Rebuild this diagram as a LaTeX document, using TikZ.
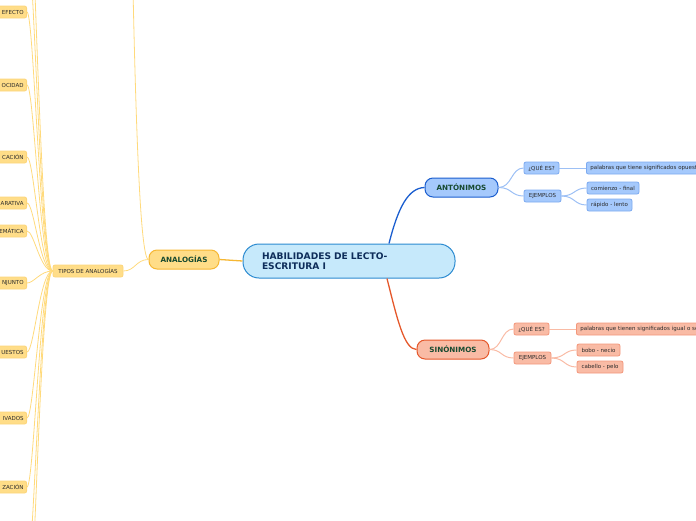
\documentclass[tikz,border=0pt]{standalone}
\usepackage{fontspec}
\setmainfont{DejaVu Sans}
\definecolor{cfill}{HTML}{C6E9FB}
\definecolor{cline}{HTML}{2B8AD0}
\definecolor{ctext}{HTML}{0E2D5A}
\definecolor{yfill}{HTML}{FFDD88}
\definecolor{yline}{HTML}{F6B733}
\definecolor{ylight}{HTML}{FCD57A}
\definecolor{ythin}{HTML}{FFDA7C}
\definecolor{bfill}{HTML}{A5C9FC}
\definecolor{bline}{HTML}{1B5ECF}
\definecolor{blight}{HTML}{7DAAF0}
\definecolor{bthin}{HTML}{9DC0F5}
\definecolor{rfill}{HTML}{F9BBA5}
\definecolor{rline}{HTML}{E5582B}
\definecolor{rlight}{HTML}{F3977B}
\definecolor{rthin}{HTML}{F9BBA5}
\definecolor{gtext}{HTML}{174A30}
\definecolor{stext}{HTML}{2A2A2A}
\tikzset{
  mainbox/.style={draw, line width=1pt, rounded corners=8pt, minimum height=19pt, inner sep=0pt, font=\fontsize{7.2}{8}\selectfont\bfseries, text=gtext},
  smallbox/.style={draw, line width=0.8pt, rounded corners=2pt, minimum height=12pt, inner sep=0pt, font=\fontsize{5.5}{6}\selectfont, text=stext},
  ysmall/.style={smallbox, fill=yfill, draw=ylight},
  bsmall/.style={smallbox, fill=bfill, draw=blight},
  rsmall/.style={smallbox, fill=rfill, draw=rlight},
  leftbox/.style={ysmall, anchor=east, text width=50pt, align=right, inner xsep=3pt},
  ylink/.style={draw=ythin, line width=0.8pt},
  blink/.style={draw=bthin, line width=1pt},
  rlink/.style={draw=rthin, line width=1pt},
}
\begin{document}
\begin{tikzpicture}[x=1pt,y=-1pt]
\useasboundingbox (0,0) rectangle (696,520);
\clip (0,0) rectangle (696,520);
% central
\node[draw=cline, fill=cfill, line width=1pt, rounded corners=16pt, minimum height=34pt,
      text width=174pt, inner xsep=19pt, inner ysep=0pt, align=left,
      font=\fontsize{9.1}{10.5}\selectfont\bfseries, text=ctext] (c) at (349,261)
      {HABILIDADES DE LECTO-\\ESCRITURA I};
% main branches
\node[mainbox, fill=yfill, draw=yline, minimum width=70pt] (an) at (184,259.5) {ANALOGÍAS};
\node[mainbox, fill=bfill, draw=bline, minimum width=73pt] (ant) at (461.5,187.5) {ANTÓNIMOS};
\node[mainbox, fill=rfill, draw=rline, minimum width=72pt] (sin) at (453,349.5) {SINÓNIMOS};
% antonimos children
\node[bsmall, minimum width=35pt] (aq) at (541.5,168) {¿QUÉ ES?};
\node[bsmall, minimum width=37pt] (ae) at (542.5,196) {EJEMPLOS};
\node[bsmall, anchor=west, text width=130pt, align=left, inner xsep=4pt] (ap) at (586,168) {palabras que tiene significados opuesto};
\node[bsmall, minimum width=52pt] (ac1) at (613,188) {comienzo - final};
\node[bsmall, minimum width=45pt] (ac2) at (609.5,205) {rápido - lento};
% sinonimos children
\node[rsmall, minimum width=35pt] (sq) at (531.5,329) {¿QUÉ ES?};
\node[rsmall, minimum width=37pt] (se) at (532.5,358) {EJEMPLOS};
\node[rsmall, anchor=west, text width=140pt, align=left, inner xsep=4pt] (sp) at (576,329) {palabras que tienen significados igual o se};
\node[rsmall, minimum width=43pt] (s1) at (598.5,350) {bobo - necio};
\node[rsmall, minimum width=46pt] (s2) at (600,367) {cabello - pelo};
% analogias children
\node[ysmall, minimum width=70pt] (t) at (88,271) {TIPOS DE ANALOGÍAS};
\node[leftbox] (l1) at (27,12) {EFECTO};
\node[leftbox] (l2) at (27,85) {OCIDAD};
\node[leftbox] (l3) at (27,157) {CACIÓN};
\node[leftbox] (l4) at (27,203) {ARATIVA};
\node[leftbox] (l5) at (27,231) {EMÁTICA};
\node[leftbox] (l6) at (27,283) {NJUNTO};
\node[leftbox] (l7) at (27,352) {UESTOS};
\node[leftbox] (l8) at (27,418) {IVADOS};
\node[leftbox] (l9) at (27,487) {ZACIÓN};
\coordinate (o1) at (27,-60);
\coordinate (o2) at (27,-140);
\coordinate (o3) at (27,570);
\coordinate (o4) at (27,640);
\coordinate (upA) at (132,-60);
% connectors
\draw[draw=yline, line width=1.3pt] (an.east) -- (c.west);
\draw[draw=bline, line width=1.3pt] ([xshift=40pt]c.north) .. controls (398,208) and (408,188) .. (ant.west);
\draw[draw=rline, line width=1.3pt] ([xshift=38pt]c.south) .. controls (397,318) and (404,349.5) .. (sin.west);
\draw[blink] (ant.east) .. controls (512,187.5) and (511,168) .. (aq.west);
\draw[blink] (ant.east) .. controls (512,187.5) and (511,196) .. (ae.west);
\draw[blink] (aq.east) -- (ap.west);
\draw[blink] (ae.east) .. controls (575,196) and (574,188) .. (ac1.west);
\draw[blink] (ae.east) .. controls (575,196) and (574,205) .. (ac2.west);
\draw[rlink] (sin.east) .. controls (502,349.5) and (501,329) .. (sq.west);
\draw[rlink] (sin.east) .. controls (502,349.5) and (501,358) .. (se.west);
\draw[rlink] (sq.east) -- (sp.west);
\draw[rlink] (se.east) .. controls (565,358) and (564,350) .. (s1.west);
\draw[rlink] (se.east) .. controls (565,358) and (564,367) .. (s2.west);
\draw[ylink] (an.west) .. controls (136,259.5) and (135,271) .. (t.east);
\draw[ylink] (an.west) .. controls (141,259.5) and (136,150) .. (upA);
\foreach \n in {l1,l2,l3,l4,l5,l6,l7,l8,l9}{
  \draw[ylink] (t.west) .. controls (40,271) and ([xshift=7pt]\n.east) .. (\n.east);
}
\foreach \n in {o1,o2,o3,o4}{
  \draw[ylink] (t.west) .. controls (40,271) and ([xshift=7pt]\n) .. (\n);
}
\end{tikzpicture}
\end{document}
